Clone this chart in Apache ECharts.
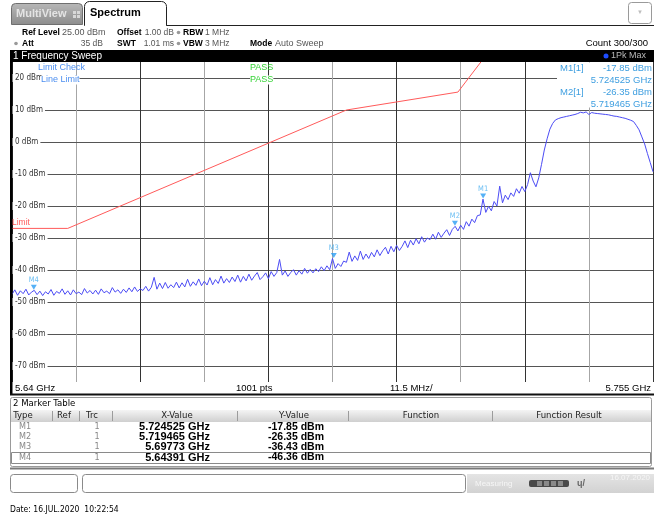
<!DOCTYPE html>
<html>
<head>
<meta charset="utf-8">
<script src="https://cdn.jsdelivr.net/npm/echarts@6/dist/echarts.min.js"></script>
<style>
html,body{margin:0;padding:0;background:#fff;}
#chart{width:654px;height:521px;}
</style>
</head>
<body>
<div id="chart"></div>
<script>
// ---- Data ----
const traceStartMHz = 5640;
const traceStepMHz = 0.5;
const traceDbm = [
 -47.6,-46.2,-47.9,-46.5,-47.4,-46.0,-47.8,-46.9,-46.36,-47.7,
 -46.6,-48.0,-46.8,-47.5,-46.1,-47.9,-46.7,-47.3,-45.9,-47.6,
 -46.5,-47.8,-46.2,-47.4,-46.9,-47.7,-45.8,-47.2,-46.4,-47.5,
 -46.3,-47.6,-45.9,-47.1,-46.6,-47.4,-45.5,-46.9,-46.2,-47.3,
 -46.0,-47.0,-45.6,-46.8,-45.3,-46.7,-45.9,-46.4,-45.1,-46.6,
 -45.4,-42.3,-46.0,-44.1,-45.8,-43.9,-45.7,-44.6,-45.5,-43.8,
 -45.6,-44.0,-45.3,-42.9,-45.1,-43.7,-44.8,-42.8,-44.9,-43.5,
 -44.7,-42.4,-44.6,-43.0,-44.2,-41.9,-44.1,-42.7,-43.9,-42.2,
 -43.6,-41.6,-43.8,-42.0,-43.4,-41.3,-43.2,-41.9,-40.8,-43.0,
 -42.1,-40.9,-42.7,-40.5,-42.0,-40.8,-36.7,-41.6,-40.3,-42.0,
 -40.8,-39.9,-41.6,-40.2,-41.3,-39.5,-41.0,-39.8,-40.9,-39.6,
 -40.5,-39.0,-40.2,-38.7,-39.9,-36.4,-39.5,-38.0,-38.9,-37.2,
 -37.6,-34.4,-37.3,-35.6,-37.0,-34.1,-36.7,-35.0,-36.4,-34.5,
 -35.9,-33.7,-35.5,-34.0,-32.9,-35.0,-32.6,-34.3,-32.3,-33.9,
 -32.6,-30.9,-33.0,-30.7,-32.2,-30.2,-31.8,-29.6,-31.3,-30.0,
 -30.5,-28.8,-30.4,-28.2,-29.8,-28.5,-27.4,-29.2,-27.3,-26.35,
 -27.8,-26.0,-27.3,-24.9,-26.3,-24.1,-25.2,-23.0,-22.8,-17.85,
 -22.0,-20.1,-21.5,-18.6,-20.0,-13.8,-19.0,-16.6,-18.0,-15.9,
 -17.0,-14.6,-16.0,-13.9,-15.5,-13.3,-9.6,-12.2,-14.0,-11.2,
 -7.0,-2.5,1.0,4.0,5.8,6.9,7.3,7.6,7.8,8.0,
 8.2,8.4,8.6,8.9,9.3,9.1,9.4,8.6,9.2,9.0,
 8.9,8.8,8.7,8.6,8.5,8.3,8.1,8.0,7.8,7.6,
 7.4,7.1,6.8,6.4,5.2,3.8,1.6,-0.6,-3.6,-6.4,-9.3
];
const limitFreqMHz = [5640, 5650, 5700, 5720, 5725];
const limitDbm = [-27, -27, 10, 15.6, 27];
const markerNames = ['M1', 'M2', 'M3', 'M4'];
const markerFreqGHz = [5.724525, 5.719465, 5.69773, 5.64391];
const markerDbm = [-17.85, -26.35, -36.43, -46.36];
const markerFreqText = ['5.724525 GHz', '5.719465 GHz', '5.69773 GHz', '5.64391 GHz'];
const markerDbmText = ['-17.85 dBm', '-26.35 dBm', '-36.43 dBm', '-46.36 dBm'];
const yTickValues = [20, 10, 0, -10, -20, -30, -40, -50, -60, -70];
const xStartMHz = 5640, xStopMHz = 5755, xDivMHz = 11.5;

// ---- Build ----
const traceData = traceDbm.map((v, i) => [traceStartMHz + i * traceStepMHz, v]);
const limitData = limitFreqMHz.map((f, i) => [f, limitDbm[i]]);
const markerData = markerNames.map((n, i) => ({ name: n, value: [markerFreqGHz[i] * 1000, markerDbm[i]] }));

const NARROW = '"Liberation Sans Narrow","DejaVu Sans Condensed",sans-serif';
const SANS = '"Liberation Sans","DejaVu Sans",sans-serif';
function T(x, y, text, opt) {
  opt = opt || {};
  return {
    type: 'text', x: x, y: y, z: 100, silent: true,
    style: Object.assign({
      text: text, fill: opt.fill || '#000',
      font: (opt.weight || 'normal') + ' ' + (opt.size || 9) + 'px ' + (opt.family || SANS),
      textAlign: opt.align || 'left', textVerticalAlign: 'middle'
    }, opt.extra || {})
  };
}
function R(x, y, w, h, style, r) {
  return { type: 'rect', z: 99, silent: true, shape: { x: x, y: y, width: w, height: h, r: r || 0 }, style: style };
}
function L(x1, y1, x2, y2, stroke, lw) {
  return { type: 'line', z: 100, silent: true, shape: { x1: x1, y1: y1, x2: x2, y2: y2 }, style: { stroke: stroke, lineWidth: lw || 1 } };
}
const grad = (c1, c2) => ({ type: 'linear', x: 0, y: 0, x2: 0, y2: 1, colorStops: [{ offset: 0, color: c1 }, { offset: 1, color: c2 }] });

const g = [];
// tabs
g.push(R(11.5, 3.5, 71, 21, { fill: grad('#b8b8b8', '#8c8c8c'), stroke: '#6f6f6f', lineWidth: 1 }, [4, 4, 0, 0]));
g.push(T(16, 14, 'MultiView', { weight: 'bold', size: 11, fill: '#e4e4e4' }));
[[73, 11], [77, 11], [73, 15], [77, 15]].forEach(p => g.push(R(p[0], p[1], 3, 3, { fill: '#d8d8d8' })));
g.push(R(84.5, 1.5, 82, 24, { fill: '#fff', stroke: '#222', lineWidth: 1 }, [5, 5, 0, 0]));
g.push(R(85, 24, 81, 3, { fill: '#fff' }));
g.push(T(90, 13, 'Spectrum', { weight: 'bold', size: 11 }));
g.push(L(166.5, 25.5, 654, 25.5, '#222', 1));
g.push(R(628.5, 2.5, 23, 21, { fill: '#fff', stroke: '#9a9a9a', lineWidth: 1 }, 3));
g.push(T(640, 12, '▼', { size: 6, fill: '#bdbdbd', align: 'center' }));
// header
const H1 = 32.5, H2 = 43.5;
g.push(T(22, H1, 'Ref Level', { weight: 'bold', size: 8.5 }));
g.push(T(62, H1, '25.00 dBm', { size: 9, fill: '#555' }));
g.push(T(117, H1, 'Offset', { weight: 'bold', size: 8.5 }));
g.push(T(174, H1, '1.00 dB', { size: 8.5, fill: '#555', align: 'right' }));
g.push({ type: 'circle', z: 100, shape: { cx: 178.5, cy: H1, r: 1.8 }, style: { fill: '#999' } });
g.push(T(183, H1, 'RBW', { weight: 'bold', size: 8.5 }));
g.push(T(205, H1, '1 MHz', { size: 8.5, fill: '#555' }));
g.push({ type: 'circle', z: 100, shape: { cx: 16, cy: H2, r: 1.8 }, style: { fill: '#999' } });
g.push(T(22, H2, 'Att', { weight: 'bold', size: 8.5 }));
g.push(T(103, H2, '35 dB', { size: 8.5, fill: '#555', align: 'right' }));
g.push(T(117, H2, 'SWT', { weight: 'bold', size: 8.5 }));
g.push(T(174, H2, '1.01 ms', { size: 8.5, fill: '#555', align: 'right' }));
g.push({ type: 'circle', z: 100, shape: { cx: 178.5, cy: H2, r: 1.8 }, style: { fill: '#999' } });
g.push(T(183, H2, 'VBW', { weight: 'bold', size: 8.5 }));
g.push(T(205, H2, '3 MHz', { size: 8.5, fill: '#555' }));
g.push(T(250, H2, 'Mode', { weight: 'bold', size: 8.5 }));
g.push(T(275, H2, 'Auto Sweep', { size: 9, fill: '#555' }));
g.push(T(648, H2, 'Count 300/300', { size: 9.5, align: 'right' }));
// title bar
g.push(R(10, 50, 644, 12, { fill: '#000' }));
g.push(T(13, 56, '1 Frequency Sweep', { size: 10, fill: '#fff' }));
g.push({ type: 'circle', z: 100, shape: { cx: 606, cy: 56, r: 2.5 }, style: { fill: '#1e4dff' } });
g.push(T(611, 56, '1Pk Max', { size: 9, fill: '#b8b8b8' }));
// left border
g.push(R(10, 50, 2.5, 345, { fill: '#000' }));
// limit check texts
g.push(T(38, 68, 'Limit Check', { size: 9, fill: '#4d8ff0' }));
g.push(T(41, 80, 'Line Limit', { size: 9, fill: '#4d8ff0', extra: { backgroundColor: '#fff' } }));
g.push(T(250, 68, 'PASS', { size: 9, fill: '#35d335' }));
g.push(T(250, 80, 'PASS', { size: 9, fill: '#35d335', extra: { backgroundColor: '#fff' } }));
g.push(T(12, 223, 'Limit', { size: 8.5, fill: '#ff5a5a' }));
// marker info box
g.push(R(557, 62.5, 96, 45, { fill: '#fff' }));
const MC = '#3f9fe0';
g.push(T(560, 68, 'M1[1]', { size: 9.5, fill: MC }));
g.push(T(652, 68, markerDbmText[0], { size: 9.5, fill: MC, align: 'right' }));
g.push(T(652, 80, markerFreqText[0], { size: 9.5, fill: MC, align: 'right' }));
g.push(T(560, 92, 'M2[1]', { size: 9.5, fill: MC }));
g.push(T(652, 92, markerDbmText[1], { size: 9.5, fill: MC, align: 'right' }));
g.push(T(652, 104, markerFreqText[1], { size: 9.5, fill: MC, align: 'right' }));
// x bar
const XB = 388.5;
g.push(T(15, XB, (xStartMHz / 1000) + ' GHz', { size: 9.5 }));
g.push(T(236, XB, '1001 pts', { size: 9.5 }));
g.push(T(390, XB, xDivMHz + ' MHz/', { size: 9.5 }));
g.push(T(651, XB, (xStopMHz / 1000) + ' GHz', { size: 9.5, align: 'right' }));
g.push(R(10, 393.5, 644, 2, { fill: '#111' }));
// marker table
g.push(R(10.5, 397.5, 641, 69, { fill: 'none', stroke: '#9a9a9a', lineWidth: 1 }, 2));
g.push(T(13, 404, '2 Marker Table', { size: 9.5, family: NARROW }));
g.push(R(11, 410, 640, 12, { fill: grad('#f4f4f4', '#cfcfcf') }));
[52, 79, 112, 237, 348, 492].forEach(x => g.push(L(x + 0.5, 411, x + 0.5, 421, '#9c9c9c', 1)));
const HY = 416;
[['Type', 23], ['Ref', 64], ['Trc', 92], ['X-Value', 177], ['Y-Value', 294], ['Function', 421], ['Function Result', 569]]
  .forEach(c => g.push(T(c[1], HY, c[0], { size: 9.5, family: NARROW, fill: '#222', align: 'center' })));
const rowY = [427, 437, 447, 457.5];
g.push(R(11.5, 452.5, 639, 11, { fill: 'none', stroke: '#8a8a8a', lineWidth: 1 }));
markerNames.forEach((n, i) => {
  g.push(T(19, rowY[i], n, { size: 9, family: NARROW, fill: '#888' }));
  g.push(T(97, rowY[i], '1', { size: 9, family: NARROW, fill: '#888', align: 'center' }));
  g.push(T(210, rowY[i], markerFreqText[i], { size: 11, weight: 'bold', align: 'right' }));
  g.push(T(324, rowY[i], markerDbmText[i], { size: 10.5, weight: 'bold', align: 'right' }));
});
g.push(R(10, 467.5, 644, 2, { fill: '#7a7a7a' }));
// status bar
g.push(R(10.5, 474.5, 67, 18, { fill: '#fff', stroke: '#8a8a8a', lineWidth: 1 }, 3));
g.push(R(82.5, 474.5, 383, 18, { fill: '#fff', stroke: '#8a8a8a', lineWidth: 1 }, 3));
g.push(R(467, 474, 187, 19, { fill: grad('#e4e4e4', '#d2d2d2') }));
g.push(T(475, 484, 'Measuring', { size: 8, fill: '#f6f6f6' }));
g.push(R(529, 480, 40, 7, { fill: '#4a4a4a' }, 2));
[537, 544, 551, 558].forEach(x => g.push(R(x, 481, 5, 5, { fill: '#8a8a8a' })));
g.push(T(577, 484, 'ɥ/', { size: 9, weight: 'bold', fill: '#666' }));
g.push(T(610, 478, '16.07.2020', { size: 8, fill: '#f6f6f6' }));
// date
g.push(T(10, 510, 'Date: 16.JUL.2020  10:22:54', { size: 8.5, family: NARROW }));

const chart = echarts.init(document.getElementById('chart'), null, { renderer: 'canvas' });
chart.setOption({
  animation: false,
  backgroundColor: '#fff',
  grid: { left: 12, top: 62, width: 641, height: 320, containLabel: false },
  xAxis: {
    type: 'value', min: xStartMHz, max: xStopMHz, interval: xDivMHz,
    axisLabel: { show: false }, axisTick: { show: false },
    axisLine: { show: true, lineStyle: { color: '#555', width: 1 } },
    splitLine: { show: true, lineStyle: { color: ['#333333', '#a6a6a6'], width: 1 } }
  },
  yAxis: {
    type: 'value', min: -75, max: 25, interval: 5,
    axisLine: { show: false }, axisTick: { show: false },
    splitLine: { show: true, lineStyle: { color: ['rgba(0,0,0,0)', '#555555'], width: 1 } },
    axisLabel: {
      inside: true, margin: 0, customValues: yTickValues,
      formatter: v => v + ' dBm', color: '#333', fontSize: 8, fontFamily: NARROW,
      backgroundColor: '#fff', padding: [0, 2, 0, 3]
    }
  },
  series: [
    { type: 'line', data: limitData, symbol: 'none', clip: true, silent: true, z: 2,
      lineStyle: { color: '#ff5a5a', width: 1 } },
    { type: 'line', data: traceData, symbol: 'none', clip: true, silent: true, z: 3,
      lineStyle: { color: '#4c4cf5', width: 1 } },
    { type: 'scatter', data: markerData, symbol: 'path://M0,0L10,0L5,9Z', symbolSize: [6, 5], symbolOffset: [0, -3],
      silent: true, z: 5, itemStyle: { color: '#2a9df4' },
      label: { show: true, position: 'top', formatter: '{b}', color: '#48aff0', fontSize: 7.5, distance: 1, fontFamily: NARROW } }
  ],
  graphic: g
});
</script>
</body>
</html>
